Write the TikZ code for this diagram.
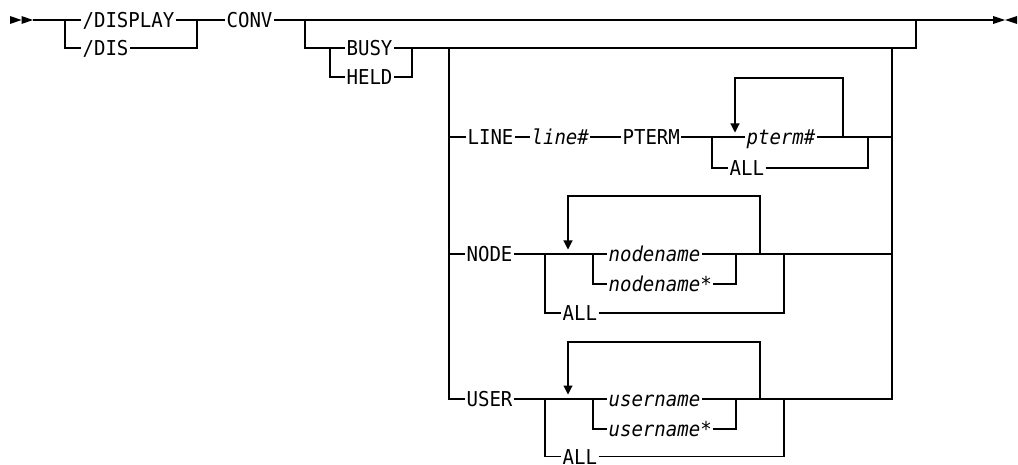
\documentclass[tikz,border=0pt]{standalone}
\usepackage{fontspec}
\setmonofont[FakeStretch=0.93]{DejaVu Sans Mono}
\usetikzlibrary{arrows.meta}
\begin{document}
\begin{tikzpicture}[x=1pt,y=-1pt,line width=1.1pt,
  kw/.style={anchor=west,inner xsep=1pt,inner ysep=0pt,text height=15pt,text depth=0pt,
    font=\fontsize{20.5}{22}\selectfont\ttfamily},
  var/.style={kw,font=\fontsize{20.5}{22}\selectfont\ttfamily\itshape},
  back/.style={-{Triangle[width=9pt,length=9pt]}}]
\useasboundingbox (0,0) rectangle (1018,465);
% Verzweigungspunkte
\coordinate (start) at (33,20);
\coordinate (j1) at (65,20);
\coordinate (j2) at (197,20);
\coordinate (j3) at (305,20);
\coordinate (j4) at (916,20);
\coordinate (j5) at (916,48);
\coordinate (fin) at (993,20);
\coordinate (b1) at (330,48);
\coordinate (b2) at (412,48);
\coordinate (c1) at (449,48);
\coordinate (c2) at (892,48);
\coordinate (p1) at (712,137);
\coordinate (pr) at (843,137);
\coordinate (p2) at (868,137);
\coordinate (n1) at (545,254);
\coordinate (nb1) at (593,254);
\coordinate (nb2) at (736,254);
\coordinate (nr) at (760,254);
\coordinate (n2) at (784,254);
\coordinate (u1) at (545,399);
\coordinate (ub1) at (593,399);
\coordinate (ub2) at (736,399);
\coordinate (ur) at (760,399);
\coordinate (u2) at (784,399);
% Schluesselwoerter und Variablen
\node[kw] (disp) at (81,20) {/DISPLAY};
\node[kw] (dis) at (81,48) {/DIS};
\node[kw] (conv) at (225,20) {CONV};
\node[kw] (busy) at (345,48) {BUSY};
\node[kw] (held) at (345,77) {HELD};
\node[kw] (line) at (466,137) {LINE};
\node[var] (linenum) at (530,137) {line\#};
\node[kw] (pterm) at (621,137) {PTERM};
\node[var] (ptermnum) at (745,137) {pterm\#};
\node[kw] (pall) at (728,168) {ALL};
\node[kw] (node) at (465,254) {NODE};
\node[var] (nodename) at (607,254) {nodename};
\node[var] (nodenamex) at (607,284) {nodename*};
\node[kw] (nall) at (561,313) {ALL};
\node[kw] (user) at (465,399) {USER};
\node[var] (username) at (607,399) {username};
\node[var] (usernamex) at (607,429) {username*};
\node[kw] (uall) at (561,456.5) {ALL};
% Anfang und Ende
\fill (start) ++(-23,-4) -- ++(11.5,4) -- ++(-11.5,4) -- cycle;
\fill (start) ++(-11.5,-4) -- ++(11.5,4) -- ++(-11.5,4) -- cycle;
\fill (fin) -- ++(0,-4) -- ++(12,4) -- ++(-12,4) -- cycle;
\fill (fin) ++(24,-4) -- ++(0,8) -- ++(-12,-4) -- cycle;
% Hauptlinie
\draw (start) -- (j1) -- (disp.west);
\draw (j1) |- (dis.west);
\draw (disp.east) -- (j2) -- (conv.west);
\draw (dis.east) -| (j2);
\draw (conv.east) -- (j3) -- (j4) -- (fin);
\draw (j3) |- (b1) -- (busy.west);
\draw (b1) |- (held.west);
\draw (busy.east) -- (b2) -- (j5) -- (j4);
\draw (held.east) -| (b2);
\draw (c1) |- (user.west);
\draw (c2) |- (u2);
% LINE
\draw (c1 |- line.west) -- (line.west);
\draw (line.east) -- (linenum.west);
\draw (linenum.east) -- (pterm.west);
\draw (pterm.east) -- (p1) -- (ptermnum.west);
\draw (p1) |- (pall.west);
\draw (pall.east) -| (p2);
\draw (ptermnum.east) -- (p2) -- (c2 |- p2);
\draw[back] (pr) -- ++(0,-59) -| ++(-108,54.5);
% NODE
\draw (c1 |- node.west) -- (node.west);
\draw (node.east) -- (n1) -- (nb1) -- (nodename.west);
\draw (n1) |- (nall.west);
\draw (nb1) |- (nodenamex.west);
\draw (nodename.east) -- (nb2) -- (n2) -- (c2 |- n2);
\draw (nodenamex.east) -| (nb2);
\draw (nall.east) -| (n2);
\draw[back] (nr) -- ++(0,-58) -| ++(-192,53.5);
% USER
\draw (user.east) -- (u1) -- (ub1) -- (username.west);
\draw (u1) |- (uall.west);
\draw (ub1) |- (usernamex.west);
\draw (username.east) -- (ub2) -- (u2);
\draw (usernamex.east) -| (ub2);
\draw (uall.east) -| (u2);
\draw[back] (ur) -- ++(0,-57) -| ++(-192,52.5);
\end{tikzpicture}
\end{document}
